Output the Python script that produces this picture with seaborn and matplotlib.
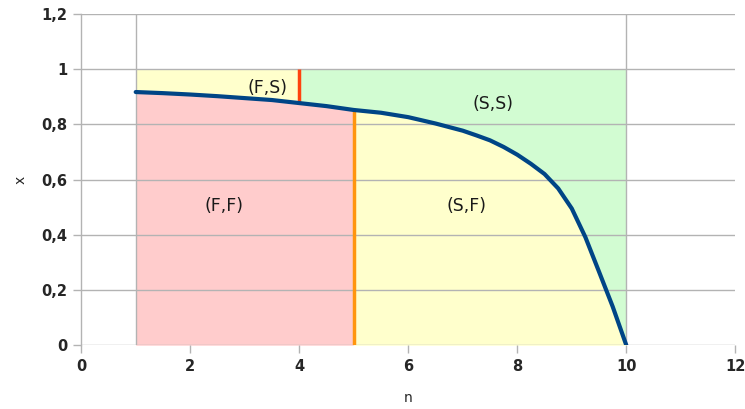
import numpy as np
import pandas as pd
import seaborn as sns
import matplotlib
matplotlib.use("Agg")
import matplotlib.pyplot as plt
from matplotlib.ticker import FuncFormatter, MultipleLocator

# data
n_vals = [1, 1.5, 2, 2.5, 3, 3.5, 4, 4.5, 5, 5.5, 6, 6.5, 7, 7.25, 7.5, 7.75, 8,
          8.25, 8.5, 8.75, 9, 9.25, 9.5, 9.75, 10]
x_vals = [0.917, 0.913, 0.908, 0.902, 0.895, 0.888, 0.877, 0.866, 0.852, 0.842,
          0.826, 0.803, 0.777, 0.760, 0.742, 0.718, 0.690, 0.657, 0.620, 0.568,
          0.495, 0.391, 0.266, 0.140, 0.0]
top_level = 1.0
split_upper = 4   # boundary between (F,S) and (S,S)
split_lower = 5   # boundary between (F,F) and (S,F)
region_labels = ["(F,S)", "(S,S)", "(F,F)", "(S,F)"]
label_pos = [(3.41, 0.93), (7.56, 0.875), (2.62, 0.506), (7.06, 0.506)]

sns.set_theme(style="white")
plt.rcParams['font.family'] = ['DejaVu Sans']

df = pd.DataFrame({"n": n_vals, "x": x_vals})
n = np.array(n_vals)
xv = np.array(x_vals)

fig = plt.figure(figsize=(7.45, 4.09), dpi=100)
ax = fig.add_axes([0.109, 0.156, 0.878, 0.810])

c_red = "#ffcccc"
c_yel = "#ffffcc"
c_grn = "#d2fcd2"
c_grid = "#b3b3b3"

ax.fill_between(n, 0, xv, where=n <= split_lower, color=c_red, lw=0, zorder=1)
ax.fill_between(n, 0, xv, where=n >= split_lower, color=c_yel, lw=0, zorder=1)
ax.fill_between(n, xv, top_level, where=n <= split_upper, color=c_yel, lw=0, zorder=1)
ax.fill_between(n, xv, top_level, where=n >= split_upper, color=c_grn, lw=0, zorder=1)

# vertical boundary lines of the area series
ax.axvline(n[0], color=c_grid, lw=1, zorder=2)
ax.axvline(n[-1], color=c_grid, lw=1, zorder=2)

y_up = np.interp(split_upper, n, xv)
y_lo = np.interp(split_lower, n, xv)
ax.vlines(split_upper, y_up, top_level, color="#ff420e", lw=2.5, zorder=3)
ax.vlines(split_lower, 0, y_lo, color="#ff950e", lw=2.5, zorder=3)

sns.lineplot(data=df, x="n", y="x", ax=ax, color="#004586", lw=3, zorder=4)

for lab, (px, py) in zip(region_labels, label_pos):
    ax.text(px, py, lab, ha="center", va="center", fontsize=12.5, color="#1a1a1a", zorder=5)

ax.set_xlim(0, 12)
ax.set_ylim(0, 1.2)
ax.xaxis.set_major_locator(MultipleLocator(2))
ax.yaxis.set_major_locator(MultipleLocator(0.2))
fmt = FuncFormatter(lambda v, p: ("%g" % round(v, 2)).replace(".", ","))
ax.xaxis.set_major_formatter(fmt)
ax.yaxis.set_major_formatter(fmt)
ax.set_axisbelow(False)
ax.yaxis.grid(True, color=c_grid, lw=1, zorder=2)
ax.xaxis.grid(False)
for k, s in ax.spines.items():
    s.set_visible(k == "left")
ax.spines["left"].set_color(c_grid)
ax.spines["left"].set_linewidth(1)
ax.tick_params(axis="both", which="major", length=6, width=1, color=c_grid,
               labelsize=10.5, pad=4, bottom=True, left=True, direction="out")
for t in ax.get_xticklabels() + ax.get_yticklabels():
    t.set_fontweight("bold")
ax.set_xlabel("n", fontsize=10, labelpad=12)
ax.set_ylabel("x", fontsize=10, labelpad=10)

fig.savefig("out.png", dpi=100)
